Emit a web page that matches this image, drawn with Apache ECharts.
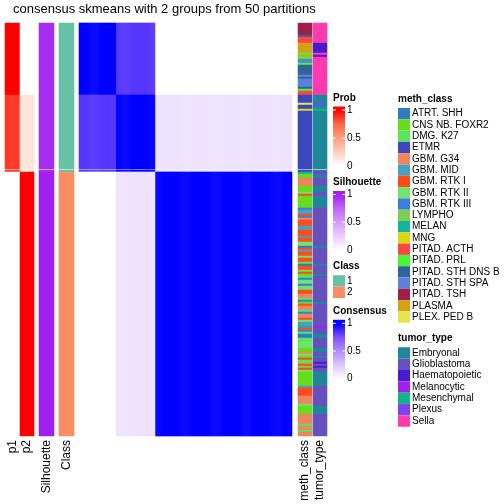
<!DOCTYPE html>
<html><head><meta charset="utf-8">
<script src="https://cdn.jsdelivr.net/npm/echarts/dist/echarts.min.js"></script>
<style>html,body{margin:0;padding:0;background:#fff}#c{width:504px;height:504px}</style>
</head><body><div id="c"></div>
<script>
// ================= DATA =================
const titleText = 'consensus skmeans with 2 groups from 50 partitions';
// sample groups (in row order): group a, group b (slice 1), b (slice 2), class-2 group
const groupSizes = [36, 37, 1, 132];
const groupSlice = [0, 0, 1, 1];
const groupP1 = [1, 0.86, 0.86, 0];
const groupP2 = [0, 0.14, 0.14, 1];
const groupSilhouette = [0.95, 0.95, 0.95, 1];
const groupClass = [1, 1, 1, 2];
const consensusByGroup = [
  [1, 0.83, 0.83, 0],
  [0.83, 1, 1, 0.12],
  [0.83, 1, 1, 0.12],
  [0, 0.12, 0.12, 1]
];
const methClasses = ['ATRT. SHH','CNS NB. FOXR2','DMG. K27','ETMR','GBM. G34','GBM. MID','GBM. RTK I','GBM. RTK II','GBM. RTK III','LYMPHO','MELAN','MNG','PITAD. ACTH','PITAD. PRL','PITAD. STH DNS B','PITAD. STH SPA','PITAD. TSH','PLASMA','PLEX. PED B'];
const tumorTypes = ['Embryonal','Glioblastoma','Haematopoietic','Melanocytic','Mesenchymal','Plexus','Sella'];
// runs of consecutive samples: [meth_class, tumor_type, count]
const annotationRuns = [
  ['PITAD. TSH','Sella',6],['PITAD. STH DNS B','Sella',1],['PITAD. ACTH','Sella',3],['PLASMA','Haematopoietic',5],
  ['PITAD. PRL','Sella',1],['PLASMA','Haematopoietic',1],['PITAD. PRL','Sella',1],['PITAD. STH SPA','Sella',2],
  ['PITAD. PRL','Sella',1],['PITAD. STH DNS B','Sella',5],['PITAD. STH SPA','Sella',1],['PITAD. STH DNS B','Sella',1],
  ['PITAD. STH SPA','Sella',4],['PITAD. STH DNS B','Sella',1],['PITAD. PRL','Sella',1],['PITAD. ACTH','Sella',2],
  ['ETMR','Embryonal',4],['PLEX. PED B','Plexus',1],['ETMR','Embryonal',2],['MNG','Mesenchymal',1],['ETMR','Embryonal',29],
  ['ETMR','Embryonal',1],
  ['MELAN','Melanocytic',1],['CNS NB. FOXR2','Embryonal',2],['GBM. G34','Glioblastoma',4],['CNS NB. FOXR2','Embryonal',3],
  ['GBM. RTK II','Glioblastoma',1],['GBM. RTK I','Glioblastoma',1],['CNS NB. FOXR2','Embryonal',6],['GBM. RTK III','Glioblastoma',1],
  ['GBM. MID','Glioblastoma',2],['GBM. RTK I','Glioblastoma',1],['GBM. RTK III','Glioblastoma',1],['GBM. G34','Glioblastoma',1],
  ['GBM. RTK I','Glioblastoma',3],['GBM. MID','Glioblastoma',2],['GBM. RTK I','Glioblastoma',3],['GBM. MID','Glioblastoma',1],
  ['GBM. RTK I','Glioblastoma',2],['GBM. RTK II','Glioblastoma',2],['ATRT. SHH','Embryonal',1],['GBM. RTK I','Glioblastoma',1],
  ['GBM. MID','Glioblastoma',1],['GBM. RTK I','Glioblastoma',2],['GBM. RTK II','Glioblastoma',1],['GBM. RTK I','Glioblastoma',2],
  ['DMG. K27','Glioblastoma',1],['ATRT. SHH','Embryonal',1],['GBM. RTK I','Glioblastoma',2],['DMG. K27','Glioblastoma',1],
  ['GBM. RTK I','Glioblastoma',1],['CNS NB. FOXR2','Embryonal',1],['DMG. K27','Glioblastoma',1],['GBM. RTK III','Glioblastoma',1],
  ['GBM. RTK II','Glioblastoma',2],['GBM. RTK III','Glioblastoma',1],['GBM. RTK II','Glioblastoma',2],['GBM. RTK I','Glioblastoma',2],
  ['GBM. G34','Glioblastoma',2],['DMG. K27','Glioblastoma',1],['GBM. RTK III','Glioblastoma',1],['CNS NB. FOXR2','Embryonal',1],
  ['GBM. RTK I','Glioblastoma',1],['GBM. G34','Glioblastoma',2],['DMG. K27','Glioblastoma',1],['GBM. RTK III','Glioblastoma',1],
  ['GBM. G34','Glioblastoma',2],['GBM. RTK I','Glioblastoma',1],['GBM. RTK II','Glioblastoma',1],['GBM. MID','Glioblastoma',2],
  ['MELAN','Melanocytic',1],['GBM. RTK I','Glioblastoma',1],['GBM. RTK III','Glioblastoma',1],['DMG. K27','Glioblastoma',1],
  ['ATRT. SHH','Embryonal',2],['DMG. K27','Glioblastoma',2],['GBM. RTK II','Glioblastoma',3],['CNS NB. FOXR2','Embryonal',2],
  ['GBM. G34','Glioblastoma',1],['GBM. RTK II','Glioblastoma',1],['CNS NB. FOXR2','Embryonal',1],['GBM. RTK I','Glioblastoma',1],
  ['DMG. K27','Glioblastoma',1],['LYMPHO','Haematopoietic',1],['GBM. RTK I','Glioblastoma',1],['LYMPHO','Haematopoietic',1],
  ['GBM. RTK I','Glioblastoma',1],['GBM. RTK II','Glioblastoma',1],['CNS NB. FOXR2','Embryonal',7],['GBM. MID','Glioblastoma',1],
  ['GBM. RTK I','Glioblastoma',4],['GBM. G34','Glioblastoma',4],['GBM. RTK II','Glioblastoma',1],['CNS NB. FOXR2','Embryonal',4],
  ['GBM. G34','Glioblastoma',5],['DMG. K27','Glioblastoma',1],['GBM. G34','Glioblastoma',2],['DMG. K27','Glioblastoma',1],
  ['GBM. G34','Glioblastoma',2]
];
const legendTicks = ['1', '0.5', '0'];
const classLabels = ['1', '2'];

// ================= STYLES =================
const FONT = '"Liberation Sans", Arial, Helvetica, sans-serif';
const probColors = ['#ffffff', '#ffcfbf', '#ff9e81', '#ff6846', '#ff0000'];
const silColors = ['#ffffff', '#edcdfd', '#d79af9', '#be66f6', '#a020f0'];
const consColors = ['#ffffff', '#dcc5ff', '#b38bff', '#7e51ff', '#0000ff'];
const classColors = ['#66c2a5', '#fc8d62'];
const methColors = ['#2f7dbf','#66dd1a','#58e65c','#3b47bd','#ef855f','#48a0c2','#ff4d1a','#6fe36f','#3a7ee0','#7ccf52','#14b3a0','#dcd60e','#ff4646','#44f838','#30659b','#5b82d8','#a01f4a','#d3a314','#e6e64c'];
const tumorColors = ['#1e8799','#6550be','#4a1ad0','#a020f0','#12b585','#7b44f2','#ff3bae'];

// ================= BUILD =================
const samples = [];
groupSizes.forEach((n, g) => { for (let i = 0; i < n; i++) samples.push({ id: 's' + samples.length, g }); });
let k = 0;
annotationRuns.forEach(([m, t, n]) => { for (let i = 0; i < n; i++) { if (samples[k]) { samples[k].meth = m; samples[k].tumor = t; } k++; } });
const allIds = samples.map(s => s.id);
const ROW_H = 2;
const sliceTops = [23, 170];
const slices = [0, 1].map(s => samples.filter(x => groupSlice[x.g] === s));

const cols = [
  { key: 'p1', left: 5, width: 15, label: 'p1' },
  { key: 'p2', left: 20, width: 14, label: 'p2' },
  { key: 'sil', left: 39, width: 15, label: 'Silhouette' },
  { key: 'cls', left: 59, width: 15, label: 'Class' },
  { key: 'cons', left: 79, width: 213, label: null },
  { key: 'meth', left: 298, width: 14, label: 'meth_class' },
  { key: 'tumor', left: 313, width: 14, label: 'tumor_type' }
];

const grid = [], xAxis = [], yAxis = [], series = [];
const seriesIdx = { prob: [], sil: [], cls: [], cons: [], meth: [], tumor: [] };

slices.forEach((rows, s) => {
  const ids = rows.map(r => r.id);
  cols.forEach(c => {
    const gi = grid.length;
    grid.push({ left: c.left, top: sliceTops[s], width: c.width, height: rows.length * ROW_H, outerBoundsMode: 'none', containLabel: false });
    const isCons = c.key === 'cons';
    xAxis.push({
      gridIndex: gi, type: 'category', data: isCons ? allIds : [c.key],
      show: s === 1 && !!c.label,
      name: (s === 1 && c.label) ? c.label : '',
      nameLocation: 'middle', nameRotate: 90, nameGap: 4,
      nameTextStyle: { fontSize: 12, color: '#000', fontFamily: FONT, align: 'right', verticalAlign: 'middle' },
      axisLine: { show: false }, axisTick: { show: false }, axisLabel: { show: false }, splitLine: { show: false }
    });
    yAxis.push({ gridIndex: gi, type: 'category', data: ids, inverse: true, show: false });
    let data = [];
    let type = null;
    if (c.key === 'p1') { type = 'prob'; data = rows.map((r, i) => [0, i, groupP1[r.g]]); }
    else if (c.key === 'p2') { type = 'prob'; data = rows.map((r, i) => [0, i, groupP2[r.g]]); }
    else if (c.key === 'sil') { type = 'sil'; data = rows.map((r, i) => [0, i, groupSilhouette[r.g]]); }
    else if (c.key === 'cls') { type = 'cls'; data = rows.map((r, i) => [0, i, groupClass[r.g]]); }
    else if (c.key === 'meth') { type = 'meth'; data = rows.map((r, i) => [0, i, methClasses.indexOf(r.meth)]); }
    else if (c.key === 'tumor') { type = 'tumor'; data = rows.map((r, i) => [0, i, tumorTypes.indexOf(r.tumor)]); }
    else if (isCons) {
      type = 'cons';
      rows.forEach((r, i) => samples.forEach((cs, j) => data.push([j, i, consensusByGroup[r.g][cs.g]])));
    }
    seriesIdx[type].push(series.length);
    series.push({
      type: 'heatmap', xAxisIndex: gi, yAxisIndex: gi, data,
      progressive: 0, animation: false, silent: true,
      emphasis: { disabled: true }, itemStyle: { borderWidth: 0 }
    });
  });
});

const visualMap = [
  { type: 'continuous', show: false, min: 0, max: 1, dimension: 2, seriesIndex: seriesIdx.prob, inRange: { color: probColors } },
  { type: 'continuous', show: false, min: 0, max: 1, dimension: 2, seriesIndex: seriesIdx.sil, inRange: { color: silColors } },
  { type: 'continuous', show: false, min: 0, max: 1, dimension: 2, seriesIndex: seriesIdx.cons, inRange: { color: consColors } },
  { type: 'piecewise', show: false, dimension: 2, seriesIndex: seriesIdx.cls, pieces: classColors.map((col, i) => ({ value: i + 1, color: col })) },
  { type: 'piecewise', show: false, dimension: 2, seriesIndex: seriesIdx.meth, pieces: methColors.map((col, i) => ({ value: i, color: col })) },
  { type: 'piecewise', show: false, dimension: 2, seriesIndex: seriesIdx.tumor, pieces: tumorColors.map((col, i) => ({ value: i, color: col })) }
];

// ================= LEGENDS (graphic) =================
const graphic = [];
function txt(x, y, text, bold) {
  graphic.push({ type: 'text', x, y, silent: true,
    style: { text, fill: '#000', font: (bold ? 'bold ' : '') + '10px ' + FONT, align: 'left', verticalAlign: 'middle', textAlign: 'left', textVerticalAlign: 'middle' } });
}
function contLegend(x, titleY, title, tickY, colors) {
  txt(x, titleY, title, true);
  const top = tickY[0] - 3.5, bottom = tickY[2] + 3.5, w = 12, h = bottom - top;
  graphic.push({ type: 'rect', silent: true, shape: { x, y: top, width: w, height: h },
    style: { fill: new echarts.graphic.LinearGradient(0, 0, 0, 1, colors.slice().reverse().map((col, i, a) => ({ offset: (3.5 + (h - 7) * i / (a.length - 1)) / h, color: col }))) } });
  tickY.forEach((ty, i) => {
    graphic.push({ type: 'line', silent: true, shape: { x1: x, y1: ty, x2: x + 3, y2: ty }, style: { stroke: '#fff', lineWidth: 1 } });
    graphic.push({ type: 'line', silent: true, shape: { x1: x + w - 3, y1: ty, x2: x + w, y2: ty }, style: { stroke: '#fff', lineWidth: 1 } });
    txt(x + w + 2, ty, legendTicks[i], false);
  });
}
function discLegend(x, titleY, title, labels, colors, keyTop, keyH) {
  txt(x, titleY, title, true);
  labels.forEach((lab, i) => {
    graphic.push({ type: 'rect', silent: true, shape: { x, y: keyTop + i * keyH, width: 12, height: keyH }, style: { fill: colors[i] } });
    txt(x + 14, keyTop + i * keyH + keyH / 2, lab, false);
  });
}
contLegend(333, 98, 'Prob', [110, 138, 166], probColors);
contLegend(333, 182.5, 'Silhouette', [194.5, 222.2, 250], silColors);
discLegend(333, 266.5, 'Class', classLabels, classColors, 275.2, 11.4);
contLegend(333, 311.5, 'Consensus', [323.3, 351, 378.7], consColors);
discLegend(398, 99, 'meth_class', methClasses, methColors, 108, 11.3);
discLegend(398, 338, 'tumor_type', tumorTypes, tumorColors, 347.3, 11.35);

const chart = echarts.init(document.getElementById('c'), null, { renderer: 'canvas' });
chart.setOption({
  animation: false,
  backgroundColor: '#fff',
  title: { text: titleText, left: 13, top: 3, padding: 0, textStyle: { fontSize: 13, fontWeight: 'normal', color: '#000', fontFamily: FONT } },
  grid, xAxis, yAxis, visualMap, series, graphic
});
</script></body></html>
